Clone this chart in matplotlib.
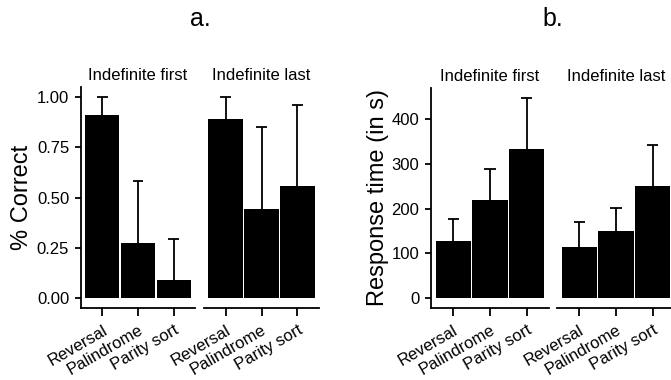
import matplotlib.pyplot as plt
import matplotlib.transforms as mtransforms
import numpy as np

plt.rcParams['font.family'] = ['Liberation Sans', 'DejaVu Sans']

# Data
tasks = ['Reversal', 'Palindrome', 'Parity sort']
facets = ['Indefinite first', 'Indefinite last']

correct_mean = {'Indefinite first': [0.909, 0.274, 0.091],
                'Indefinite last': [0.889, 0.444, 0.557]}
correct_upper = {'Indefinite first': [1.00, 0.584, 0.292],
                 'Indefinite last': [1.00, 0.849, 0.960]}

rt_mean = {'Indefinite first': [128.6, 219.3, 333.0],
           'Indefinite last': [115.2, 150.2, 249.8]}
rt_upper = {'Indefinite first': [176.2, 289.2, 447.6],
            'Indefinite last': [169.5, 202.2, 343.5]}

W, H = 671, 380
fig = plt.figure(figsize=(W / 100, H / 100), dpi=100)


def px_axes(left, right, top, bottom):
    return fig.add_axes([left / W, 1 - bottom / H, (right - left) / W, (bottom - top) / H])


def draw_panel(ax, means, uppers, ylim, yticks, yticklabels, first):
    x = np.arange(1, len(tasks) + 1)
    ax.bar(x, means, width=0.95, color='black', edgecolor='none', zorder=2)
    # upper-only error bars
    ax.vlines(x, means, uppers, color='black', linewidth=1.3, zorder=1)
    ax.hlines(uppers, x - 0.15, x + 0.15, color='black', linewidth=1.3, zorder=1)
    ax.set_xlim(0.4, 3.6)
    ax.set_ylim(*ylim)
    ax.set_xticks(x)
    ax.set_xticklabels(tasks, rotation=30, ha='right', va='top',
                       rotation_mode='anchor', fontsize=12)
    # nudge labels right a little, like ggplot's hjust=1 anchoring
    shift = mtransforms.ScaledTranslation(4 / 100, 0, fig.dpi_scale_trans)
    for lab in ax.get_xticklabels():
        lab.set_transform(lab.get_transform() + shift)
    for s in ['top', 'right']:
        ax.spines[s].set_visible(False)
    ax.spines['bottom'].set_linewidth(1.3)
    ax.tick_params(axis='x', length=5.5, width=1.3, pad=5)
    if first:
        ax.spines['left'].set_linewidth(1.3)
        ax.set_yticks(yticks)
        ax.set_yticklabels(yticklabels, fontsize=12)
        ax.tick_params(axis='y', length=4.5, width=1.3, pad=4)
    else:
        ax.spines['left'].set_visible(False)
        ax.set_yticks([])


# panel a
top, bottom = 87, 308
boxes_a = [(81, 195), (204, 319)]
for i, (f, (l, r)) in enumerate(zip(facets, boxes_a)):
    ax = px_axes(l, r, top, bottom)
    draw_panel(ax, correct_mean[f], correct_upper[f], (-0.05, 1.05),
               [0, 0.25, 0.5, 0.75, 1.0], ['0.00', '0.25', '0.50', '0.75', '1.00'], i == 0)
    ax.set_title(f, fontsize=12, pad=5)
    if i == 0:
        ax.set_ylabel('% Correct', fontsize=17, labelpad=3)

# panel b
boxes_b = [(431, 549), (557, 675)]
for i, (f, (l, r)) in enumerate(zip(facets, boxes_b)):
    ax = px_axes(l, r, top + 1, bottom)
    draw_panel(ax, rt_mean[f], rt_upper[f], (-22.4, 470),
               [0, 100, 200, 300, 400], ['0', '100', '200', '300', '400'], i == 0)
    ax.set_title(f, fontsize=12, pad=5)
    if i == 0:
        ax.set_ylabel('Response time (in s)', fontsize=17, labelpad=2)

fig.text(200 / W, 1 - 19 / H, 'a.', fontsize=18, ha='center', va='center')
fig.text(553 / W, 1 - 19 / H, 'b.', fontsize=18, ha='center', va='center')

fig.savefig('out.png', dpi=100)
